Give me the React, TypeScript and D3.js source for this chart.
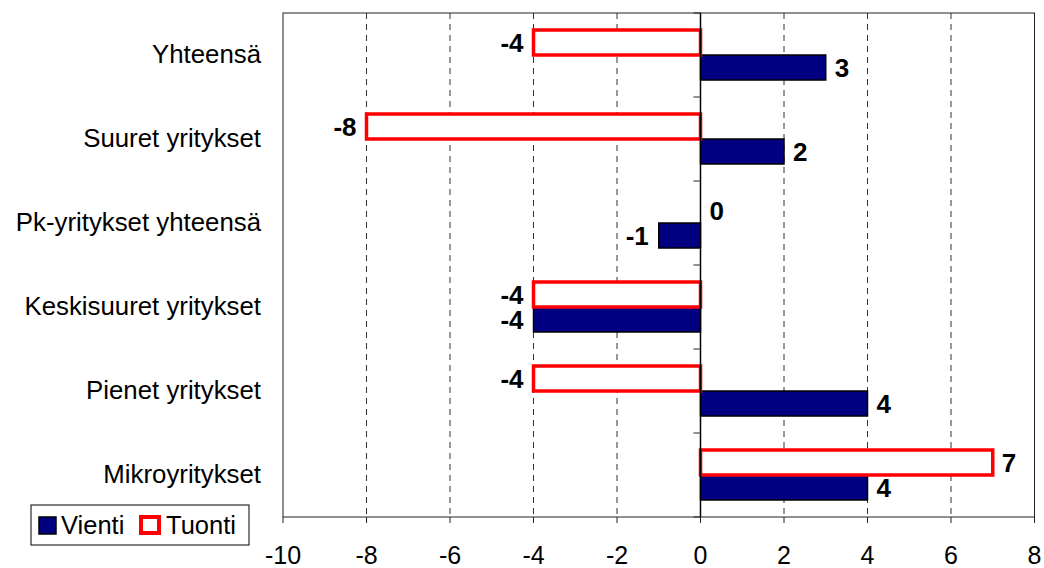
import React from "react";
import * as d3 from "d3";

const categories = [
  "Yhteensä",
  "Suuret yritykset",
  "Pk-yritykset yhteensä",
  "Keskisuuret yritykset",
  "Pienet yritykset",
  "Mikroyritykset",
];
const vienti = [3, 2, -1, -4, 4, 4];
const tuonti = [-4, -8, 0, -4, -4, 7];
const seriesNames = ["Tuonti", "Vienti"];
const xTicks = [-10, -8, -6, -4, -2, 0, 2, 4, 6, 8];

const W = 1044;
const H = 568;
const left = 283;
const right = 1034.5;
const top = 13;
const bottom = 517;
const FONT = "Liberation Sans, Arial, sans-serif";

export default function App() {
  const x = d3.scaleLinear().domain([-10, 8]).range([left, right]);
  const y = d3.scaleBand<string>().domain(categories).range([top, bottom]).paddingInner(0).paddingOuter(0);
  const inner = d3
    .scaleBand<string>()
    .domain(seriesNames)
    .range([0, y.bandwidth()])
    .paddingInner(0)
    .paddingOuter(0.68);
  const x0 = x(0);

  const boundaries = categories.map((c) => y(c)!).concat([bottom]);

  return (
    <svg
      width={W}
      height={H}
      style={{ position: "absolute", left: 0, top: 0, background: "#fff" }}
      fontFamily={FONT}
    >
      <rect x={0} y={0} width={W} height={H} fill="#fff" />
      {/* gridlines */}
      {xTicks
        .filter((t) => t !== 0 && t !== -10 && t !== 8)
        .map((t) => (
          <line
            key={"g" + t}
            x1={x(t)}
            x2={x(t)}
            y1={top}
            y2={bottom}
            stroke="#333"
            strokeWidth={1}
            strokeDasharray="6,5"
          />
        ))}
      {/* plot border */}
      <rect x={left} y={top} width={right - left} height={bottom - top} fill="none" stroke="#222" strokeWidth={1} />
      {/* x ticks */}
      {xTicks.map((t) => (
        <g key={"t" + t}>
          <line x1={x(t)} x2={x(t)} y1={bottom} y2={bottom + 6} stroke="#222" />
          <text x={x(t)} y={bottom + 47} textAnchor="middle" fontSize={25} fill="#000">
            {t}
          </text>
        </g>
      ))}
      {/* category labels */}
      {categories.map((c) => (
        <text
          key={"c" + c}
          x={261}
          y={y(c)! + y.bandwidth() / 2 + 8}
          textAnchor="end"
          fontSize={25.8}
          fill="#000"
        >
          {c}
        </text>
      ))}
      {/* bars */}
      {categories.map((c, i) => {
        const by = y(c)!;
        const tv = tuonti[i];
        const vv = vienti[i];
        const ty = by + inner("Tuonti")!;
        const vy = by + inner("Vienti")!;
        const bh = inner.bandwidth();
        return (
          <g key={"b" + c}>
            <rect
              x={Math.min(x(vv), x0)}
              y={vy}
              width={Math.abs(x(vv) - x0)}
              height={bh}
              fill="#000080"
              stroke="#000"
              strokeWidth={1.5}
            />
            {tv !== 0 && (
              <rect
                x={Math.min(x(tv), x0)}
                y={ty}
                width={Math.abs(x(tv) - x0)}
                height={bh}
                fill="#fff"
                stroke="#ff0000"
                strokeWidth={3.5}
              />
            )}
          </g>
        );
      })}
      {/* zero axis */}
      <line x1={x0} x2={x0} y1={top} y2={bottom} stroke="#000" strokeWidth={1.5} />
      {boundaries.map((b, i) => (
        <line key={"zt" + i} x1={x0 - 7} x2={x0} y1={b} y2={b} stroke="#222" />
      ))}
      {/* value labels */}
      {categories.map((c, i) => {
        const by = y(c)!;
        const bh = inner.bandwidth();
        const items = [
          { v: tuonti[i], yy: by + inner("Tuonti")! + bh / 2 },
          { v: vienti[i], yy: by + inner("Vienti")! + bh / 2 },
        ];
        return items.map((it, k) => {
          const neg = it.v < 0;
          return (
            <text
              key={"l" + i + k}
              x={neg ? x(it.v) - 10 : x(it.v) + 9}
              y={it.yy + 9}
              textAnchor={neg ? "end" : "start"}
              fontSize={26}
              fontWeight="bold"
              fill="#000"
            >
              {it.v}
            </text>
          );
        });
      })}
      {/* legend */}
      <rect x={31} y={505} width={218} height={40} fill="#fff" stroke="#000" strokeWidth={1} />
      <rect x={39} y={517} width={17} height={17} fill="#000080" stroke="#000" strokeWidth={1.5} />
      <text x={61} y={534} fontSize={25.5} fill="#000">
        Vienti
      </text>
      <rect x={141} y={517} width={18} height={16} fill="#fff" stroke="#ff0000" strokeWidth={4} />
      <text x={166} y={534} fontSize={25.5} fill="#000">
        Tuonti
      </text>
    </svg>
  );
}
